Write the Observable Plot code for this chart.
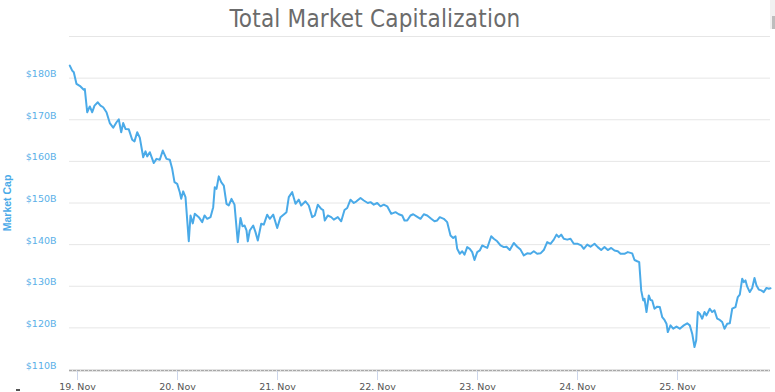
<!DOCTYPE html>
<html>
<head>
<meta charset="utf-8">
<script src="https://cdn.jsdelivr.net/npm/d3@7"></script>
<script src="https://cdn.jsdelivr.net/npm/@observablehq/plot@0.6"></script>
<style>
  html, body { margin: 0; padding: 0; background: #fff; }
  #wrap { position: relative; width: 775px; height: 392px; overflow: hidden; }
  #title { position: absolute; left: 0; top: 5px; width: 750px; text-align: center;
           font-family: "Liberation Sans Narrow", "DejaVu Sans Condensed", sans-serif;
           font-size: 24px; color: #6b6b6b; letter-spacing: 0.2px; }
  #sb { position: absolute; left: 770px; top: 0; width: 5px; height: 29px; background: #f1f1f1; }
  #sbt { position: absolute; left: 772px; top: 16px; width: 3px; height: 13px; background: #bdbdbd; }
  #dash { position: absolute; left: 16px; top: 389px; width: 4px; height: 2px; background: #555; }
</style>
</head>
<body>
<div id="wrap">
  <div id="chart"></div>
  <div id="title">Total Market Capitalization</div>
  <div id="sb"></div><div id="sbt"></div><div id="dash"></div>
</div>
<script>
// hours since 19 Nov 2018 00:00 UTC
const hours = [-1.85,-1.27,-0.89,-0.24,0.72,1.51,1.75,2.33,2.95,3.53,4.08,4.87,5.52,6.17,6.96,7.75,8.57,9.36,9.91,10.49,10.97,11.52,12.31,13.13,13.68,14.33,14.95,15.77,16.32,16.73,17.35,18.31,18.96,19.75,20.47,21.36,22.15,22.73,23.28,23.93,24.55,24.89,25.37,25.92,26.71,27.12,27.67,28.15,29.11,29.93,30.48,31.13,31.92,32.57,32.95,33.36,33.91,34.49,35.11,35.76,36.31,36.96,37.68,38.47,39.12,39.6,40.08,40.56,40.87,41.35,42.17,42.72,43.27,44.09,44.71,45.53,46.15,46.97,47.93,48.72,50.16,50.71,51.53,52.32,53.11,53.69,54.72,55.51,56.33,56.95,57.67,58.49,58.97,59.35,60.07,60.89,61.51,62.47,63.29,64.08,64.73,65.52,66.31,66.96,67.92,68.71,69.67,70.32,71.11,71.93,72.72,73.51,74.33,75.29,76.32,77.11,77.93,78.48,79.13,79.92,80.57,81.36,82.32,83.11,83.93,84.89,85.68,86.33,86.95,87.91,88.73,89.52,90.17,90.72,91.13,91.75,92.33,92.88,93.53,94.15,94.73,95.28,95.93,96.55,97.13,97.68,98.33,99.29,99.91,100.73,101.52,102.31,102.96,103.75,104.71,105.53,106.32,107.11,107.93,108.72,109.51,110.33,111.12,111.91,112.73,113.52,114.31,114.96,115.51,116.09,116.71,117.53,118.32,119.11,120.07,120.89,121.51,122.33,123.12,124.08,124.87,125.69,126.48,127.27,128.09,128.88,129.67,130.32,131.28,132.07,133.13,133.68,134.33,134.81,135.29,135.77,136.08,136.56,137.11,137.52,137.93,138.48,139.13,139.75,140.33,140.88,141.36,141.67,142.32,142.97,143.76,144.55,145.51,146.33,146.95,147.53,148.08,148.49,148.87,149.35,149.93,150.48,150.96,151.75,152.33,152.88,153.53,154.15,154.73,155.28,155.93,156.55,157.13,157.92,158.47,158.95,159.53,159.92,160.32,160.73,161.35,161.93,162.48,162.96,163.51,164.09,164.71,165.36,165.91,166.32];
// total market cap, billions USD
const capB = [183.0,181.8,181.4,178.6,178.0,177.2,177.4,171.8,173.2,171.8,173.4,174.2,173.4,173.0,171.8,169.2,168.1,169.4,170.1,167.0,169.2,167.8,167.7,165.2,164.8,167.0,165.7,161.0,162.4,161.2,162.2,159.6,160.6,160.4,162.6,160.6,160.4,158.2,155.0,154.6,152.6,151.0,152.8,151.4,140.8,147.0,145.1,147.4,146.6,145.4,147.0,146.2,146.6,149.0,153.8,153.4,156.4,155.0,154.2,149.8,149.4,151.0,149.6,140.6,146.4,144.4,144.6,143.4,140.8,143.4,144.6,143.0,141.0,145.0,144.8,147.2,146.2,147.2,144.0,146.6,147.8,151.4,152.6,149.8,150.8,149.4,150.4,149.4,146.6,147.0,149.6,148.6,148.3,145.8,147.0,146.6,146.0,146.6,145.6,148.3,148.8,150.8,150.0,150.4,151.2,150.6,150.0,150.2,149.6,150.0,149.2,149.6,149.2,147.4,147.8,147.3,147.0,145.8,145.8,147.0,147.3,146.8,146.2,147.3,147.0,146.2,145.6,145.8,146.6,146.2,145.4,142.2,141.6,142.0,139.0,137.8,138.4,137.6,139.4,139.0,138.2,136.3,138.2,138.6,139.8,139.5,139.2,142.0,141.4,140.8,139.8,139.4,139.5,138.7,140.4,139.5,138.8,137.4,137.9,137.8,138.4,137.8,137.9,138.7,140.6,140.2,141.2,142.4,141.8,142.4,141.4,141.2,141.4,140.2,140.2,139.8,139.0,140.0,139.5,140.2,139.4,138.7,139.4,138.7,139.2,138.6,138.4,137.8,137.8,138.2,137.9,136.3,136.0,135.8,129.0,126.6,127.0,123.8,127.8,126.7,126.6,124.6,125.1,125.0,122.6,121.9,121.0,119.0,120.6,119.8,120.3,119.8,120.6,121.1,120.6,118.6,115.4,117.0,123.8,123.4,122.2,123.8,123.0,124.6,123.8,124.2,122.2,121.9,121.4,119.8,121.0,121.1,124.6,125.0,127.4,128.0,131.8,131.0,131.4,129.9,128.6,129.6,132.0,130.2,129.2,129.0,128.6,129.6,129.4,129.5];
const yTicks = [110,120,130,140,150,160,170,180];
const yGrid = [110,120,130,140,150,160,170,180,190];
const dayTicks = ["2018-11-19","2018-11-20","2018-11-21","2018-11-22","2018-11-23","2018-11-24","2018-11-25"];

const start = Date.UTC(2018,10,19);
const H = 3600e3;
const data = hours.map((h,i) => ({date: new Date(start + h*H), cap: capB[i]}));
const xTicks = dayTicks.map(s => new Date(s + "T00:00:00Z"));

const fmtDay = d3.utcFormat("%-d. %b");

const chart = Plot.plot({
  width: 775, height: 392,
  marginTop: 36, marginBottom: 23, marginLeft: 69, marginRight: 5,
  style: {fontFamily: "DejaVu Sans, sans-serif", background: "#fff"},
  x: {type: "utc", domain: [new Date(start - 1.92*H), new Date(start + 166.32*H)]},
  y: {domain: [110,190]},
  marks: [
    Plot.gridY(yGrid, {stroke: "#e6e6e6", strokeOpacity: 1}),
    Plot.ruleY([110], {stroke: "#e3e3e3", strokeWidth: 3, dy: 1}),
    Plot.ruleY([110], {stroke: "#a8a8a8", strokeWidth: 1, strokeDasharray: "3,1", dy: 1}),
    Plot.axisY({ticks: yTicks, tickSize: 0, tickPadding: 13, dy: -4, fontSize: 9.5,
      fill: "#5aafe8", tickFormat: d => "$" + d + "B",
      label: "Market Cap", labelAnchor: "center", labelArrow: "none"}),
    Plot.axisX({ticks: xTicks, tickSize: 9, dy: 2, tickPadding: 3, stroke: "#ccd6eb",
      strokeOpacity: 1, fontSize: 9.5, fill: "#555", tickFormat: fmtDay, label: null}),
    Plot.line(data, {x: "date", y: "cap", stroke: "#4aaae8", strokeWidth: 2, curve: "linear"})
  ]
});
document.getElementById("chart").appendChild(chart);

// style the y-axis label (rotated title)
d3.select(chart).selectAll("g[aria-label='y-axis label'] text")
  .attr("fill", "#4aaae8").attr("font-weight", "bold").attr("font-size", 10.5)
  .attr("font-family", "Liberation Sans, Arial, sans-serif");
</script>
</body>
</html>
